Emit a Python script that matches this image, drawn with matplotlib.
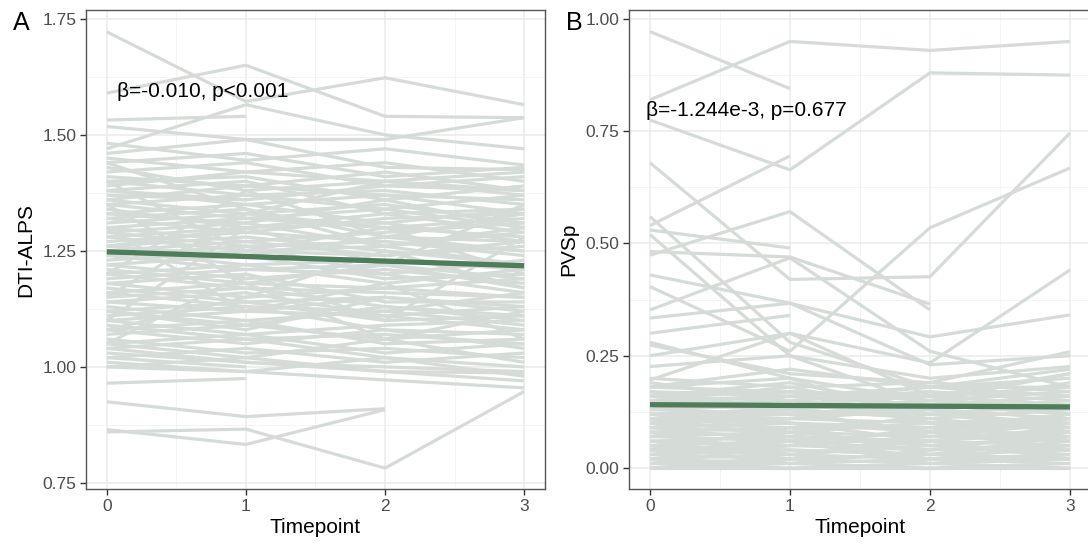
#!/usr/bin/env python3
"""Spaghetti plots of DTI-ALPS and PVSp over timepoints, with mixed model fit."""

import matplotlib
matplotlib.use('Agg')
import matplotlib.pyplot as plt
import numpy as np

nan = np.nan

timepoints = [0, 1, 2, 3]

# DTI-ALPS per subject (one row per subject, nan = missing visit)
alps_subjects = [
    [1.722, 1.572, 1.623, 1.565],
    [1.59, 1.65, 1.54, 1.537],
    [1.532, 1.54, nan, nan],
    [1.518, 1.49, 1.49, 1.537],
    [1.47, 1.565, 1.50, 1.47],
    [1.482, 1.445, 1.47, 1.435],
    [1.46, 1.49, 1.43, 1.425],
    [1.45, 1.42, 1.44, 1.40],
    [1.44, 1.46, 1.41, 1.43],
    [1.43, 1.38, 1.40, 1.37],
    [1.42, 1.44, 1.39, 1.41],
    [1.41, 1.39, 1.42, 1.38],
    [1.40, 1.41, 1.36, 1.39],
    [1.40, 1.37, 1.38, 1.35],
    [1.39, 1.42, 1.40, 1.42],
    [1.38, 1.35, 1.37, 1.36],
    [1.38, 1.40, 1.33, 1.34],
    [1.37, 1.36, 1.39, 1.38],
    [1.36, 1.33, 1.35, 1.31],
    [1.36, 1.39, 1.37, 1.33],
    [1.35, 1.32, 1.30, 1.32],
    [1.35, 1.37, 1.34, 1.37],
    [1.34, 1.30, 1.33, 1.29],
    [1.33, 1.35, 1.31, 1.34],
    [1.33, 1.31, 1.36, 1.30],
    [1.32, 1.34, 1.28, 1.27],
    [1.32, 1.29, 1.32, 1.33],
    [1.31, 1.33, 1.30, 1.28],
    [1.30, 1.27, 1.29, 1.31],
    [1.30, 1.32, 1.34, 1.30],
    [1.29, 1.26, 1.27, 1.25],
    [1.29, 1.31, 1.26, 1.29],
    [1.28, 1.30, 1.31, 1.27],
    [1.28, 1.25, 1.24, 1.26],
    [1.27, 1.29, 1.27, 1.24],
    [1.26, 1.24, 1.28, 1.25],
    [1.26, 1.28, 1.25, 1.22],
    [1.25, 1.22, 1.23, 1.21],
    [1.25, 1.27, 1.24, 1.27],
    [1.24, 1.21, 1.22, 1.19],
    [1.24, 1.26, 1.20, 1.23],
    [1.23, 1.25, 1.26, 1.22],
    [1.22, 1.19, 1.21, 1.18],
    [1.22, 1.24, 1.19, 1.20],
    [1.21, 1.18, 1.22, 1.17],
    [1.20, 1.22, 1.18, 1.21],
    [1.20, 1.17, 1.16, 1.15],
    [1.19, 1.21, 1.20, 1.16],
    [1.18, 1.15, 1.17, 1.19],
    [1.18, 1.20, 1.14, 1.14],
    [1.17, 1.14, 1.15, 1.13],
    [1.16, 1.18, 1.17, 1.15],
    [1.16, 1.13, 1.12, 1.16],
    [1.15, 1.17, 1.13, 1.11],
    [1.14, 1.12, 1.15, 1.12],
    [1.14, 1.16, 1.11, 1.13],
    [1.13, 1.10, 1.12, 1.09],
    [1.12, 1.14, 1.10, 1.11],
    [1.12, 1.09, 1.13, 1.10],
    [1.11, 1.13, 1.08, 1.07],
    [1.10, 1.07, 1.09, 1.10],
    [1.10, 1.12, 1.11, 1.08],
    [1.09, 1.06, 1.07, 1.05],
    [1.08, 1.10, 1.05, 1.06],
    [1.08, 1.05, 1.08, 1.04],
    [1.07, 1.09, 1.06, 1.08],
    [1.06, 1.03, 1.04, 1.02],
    [1.05, 1.07, 1.03, 1.05],
    [1.05, 1.02, 1.06, 1.01],
    [1.04, 1.06, 1.02, 1.00],
    [1.03, 1.01, 1.00, 0.99],
    [1.02, 1.04, 1.01, 1.03],
    [1.01, 0.99, 1.02, 0.98],
    [1.00, 1.02, 0.99, 0.97],
    [1.40, 1.25, 1.30, 1.20],
    [1.10, 1.30, 1.22, 1.35],
    [1.20, 1.38, 1.28, 1.33],
    [1.30, 1.12, 1.18, 1.06],
    [1.15, 1.33, 1.40, 1.38],
    [1.05, 1.20, 1.10, 1.28],
    [1.35, 1.18, 1.06, 1.12],
    [1.26, 1.30, nan, nan],
    [1.12, 1.08, 1.15, nan],
    [1.38, 1.36, nan, nan],
    [1.02, 1.00, nan, nan],
    [1.44, 1.34, 1.26, 1.30],
    [1.08, 1.15, 1.25, 1.17],
    [0.965, 0.975, nan, nan],
    [0.925, 0.893, 0.91, nan],
    [0.865, 0.833, 0.908, nan],
    [0.86, 0.866, 0.782, 0.947],
    [1.00, 0.99, 0.972, 0.955],
    [1.04, 1.01, 0.99, 0.987],
]

# PVSp per subject
pvsp_subjects = [
    [0.972, 0.845, nan, nan],
    [0.82, 0.95, 0.93, 0.95],
    [0.775, 0.664, 0.88, 0.875],
    [0.68, 0.42, 0.426, 0.746],
    [0.56, 0.28, 0.18, 0.22],
    [0.54, 0.695, nan, nan],
    [0.53, 0.49, nan, nan],
    [0.52, 0.25, 0.14, 0.16],
    [0.474, 0.571, 0.352, nan],
    [0.482, 0.47, 0.365, nan],
    [0.43, 0.367, 0.292, 0.341],
    [0.404, 0.26, 0.535, 0.668],
    [0.352, 0.468, 0.26, 0.18],
    [0.334, 0.367, 0.23, 0.25],
    [0.30, 0.34, nan, nan],
    [0.28, 0.20, 0.10, 0.11],
    [0.25, 0.30, 0.234, 0.441],
    [0.274, 0.21, 0.19, 0.259],
    [0.226, 0.25, 0.20, 0.226],
    [0.196, 0.30, 0.16, 0.21],
    [0.181, 0.22, 0.18, 0.18],
    [0.00, 0.00, 0.00, 0.00],
    [0.00, 0.01, 0.00, 0.01],
    [0.01, 0.00, 0.01, 0.00],
    [0.01, 0.02, 0.01, 0.02],
    [0.02, 0.01, 0.02, 0.01],
    [0.02, 0.03, 0.02, 0.03],
    [0.03, 0.02, 0.03, 0.04],
    [0.03, 0.04, 0.03, 0.02],
    [0.04, 0.03, 0.05, 0.04],
    [0.04, 0.05, 0.04, 0.05],
    [0.05, 0.04, 0.03, 0.06],
    [0.05, 0.06, 0.06, 0.05],
    [0.06, 0.05, 0.07, 0.06],
    [0.06, 0.07, 0.05, 0.07],
    [0.07, 0.06, 0.08, 0.06],
    [0.07, 0.08, 0.07, 0.08],
    [0.08, 0.07, 0.06, 0.09],
    [0.08, 0.09, 0.09, 0.07],
    [0.09, 0.08, 0.10, 0.09],
    [0.09, 0.10, 0.08, 0.10],
    [0.10, 0.09, 0.11, 0.08],
    [0.10, 0.11, 0.10, 0.11],
    [0.11, 0.10, 0.09, 0.12],
    [0.11, 0.12, 0.12, 0.10],
    [0.12, 0.11, 0.13, 0.11],
    [0.12, 0.13, 0.11, 0.13],
    [0.13, 0.12, 0.14, 0.12],
    [0.13, 0.14, 0.12, 0.14],
    [0.14, 0.13, 0.15, 0.13],
    [0.14, 0.15, 0.13, 0.15],
    [0.15, 0.14, 0.16, 0.14],
    [0.15, 0.16, 0.14, 0.16],
    [0.16, 0.15, 0.17, 0.15],
    [0.16, 0.17, 0.15, 0.17],
    [0.17, 0.16, 0.18, 0.16],
    [0.18, 0.17, 0.16, 0.18],
    [0.02, 0.06, 0.01, 0.03],
    [0.05, 0.01, 0.04, 0.08],
    [0.08, 0.03, 0.06, 0.02],
    [0.11, 0.07, 0.02, 0.05],
    [0.01, 0.05, 0.09, 0.04],
    [0.04, 0.09, 0.03, 0.07],
    [0.06, 0.02, 0.08, 0.12],
    [0.12, 0.08, 0.05, 0.03],
    [0.09, 0.13, 0.07, 0.10],
    [0.03, 0.07, 0.12, 0.09],
    [0.14, 0.10, 0.06, 0.08],
    [0.10, 0.14, 0.17, 0.12],
    [0.07, 0.11, 0.14, 0.19],
    [0.13, 0.17, 0.10, 0.06],
    [0.17, 0.12, 0.08, 0.11],
    [0.16, 0.19, 0.13, 0.09],
    [0.19, 0.15, 0.18, 0.20],
    [0.18, 0.20, 0.15, 0.21],
    [0.20, 0.18, 0.19, 0.17],
    [0.00, 0.02, nan, nan],
    [0.05, 0.03, nan, nan],
    [0.09, 0.06, 0.04, nan],
    [0.12, 0.10, nan, nan],
    [0.15, 0.18, 0.12, nan],
]

# fitted population line at timepoint 0 and 3
fit_x = [0, 3]
alps_fit = [1.248, 1.218]
pvsp_fit = [0.141, 0.136]

alps_label = 'β=-0.010, p<0.001'
pvsp_label = 'β=-1.244e-3, p=0.677'

GREY = '#D5DCD7'
GREEN = '#4E7D5A'

plt.rcParams['font.family'] = ['Liberation Sans', 'DejaVu Sans']


def style_panel(ax, ylim, yticks):
    ax.set_xlim(-0.15, 3.15)
    ax.set_ylim(*ylim)
    ax.set_xticks(timepoints)
    ax.set_xticks([0.5, 1.5, 2.5], minor=True)
    ax.set_yticks(yticks)
    step = yticks[1] - yticks[0]
    ax.set_yticks([t + step / 2 for t in yticks[:-1]], minor=True)
    ax.grid(which='major', color='#EBEBEB', lw=1.1, zorder=0)
    ax.grid(which='minor', color='#F2F2F2', lw=0.6, zorder=0)
    ax.set_axisbelow(True)
    ax.tick_params(which='major', length=4, width=1, color='#333333',
                   labelsize=12.5, labelcolor='#4D4D4D', pad=3)
    ax.tick_params(which='minor', length=0)
    for sp in ax.spines.values():
        sp.set_color('#555555')
        sp.set_linewidth(1.0)
    ax.set_xlabel('Timepoint', fontsize=15, labelpad=3)


fig = plt.figure(figsize=(10.88, 5.47), dpi=100)
ax_a = fig.add_axes([0.0790, 0.1060, 0.4219, 0.8757])
ax_b = fig.add_axes([0.5781, 0.1060, 0.4246, 0.8757])

for row in alps_subjects:
    ax_a.plot(timepoints, row, color=GREY, lw=2.3, solid_capstyle='butt', zorder=2)
ax_a.plot(fit_x, alps_fit, color=GREEN, lw=3.8, solid_capstyle='butt', zorder=3)
style_panel(ax_a, (0.737, 1.769), [0.75, 1.00, 1.25, 1.50, 1.75])
ax_a.set_yticklabels(['0.75', '1.00', '1.25', '1.50', '1.75'])
ax_a.set_ylabel('DTI-ALPS', fontsize=15, labelpad=5)
ax_a.text(0.07, 1.593, alps_label, fontsize=15, ha='left', va='center', zorder=4)

for row in pvsp_subjects:
    ax_b.plot(timepoints, row, color=GREY, lw=2.3, solid_capstyle='butt', zorder=2)
ax_b.plot(fit_x, pvsp_fit, color=GREEN, lw=3.8, solid_capstyle='butt', zorder=3)
style_panel(ax_b, (-0.0468, 1.020), [0.00, 0.25, 0.50, 0.75, 1.00])
ax_b.set_yticklabels(['0.00', '0.25', '0.50', '0.75', '1.00'])
ax_b.set_ylabel('PVSp', fontsize=15, labelpad=5)
ax_b.text(-0.03, 0.797, pvsp_label, fontsize=15, ha='left', va='center', zorder=4)

fig.text(21 / 1088, 1 - 23 / 547, 'A', fontsize=18, ha='center', va='center')
fig.text(574 / 1088, 1 - 23 / 547, 'B', fontsize=18, ha='center', va='center')

fig.savefig('out.png', dpi=100)
